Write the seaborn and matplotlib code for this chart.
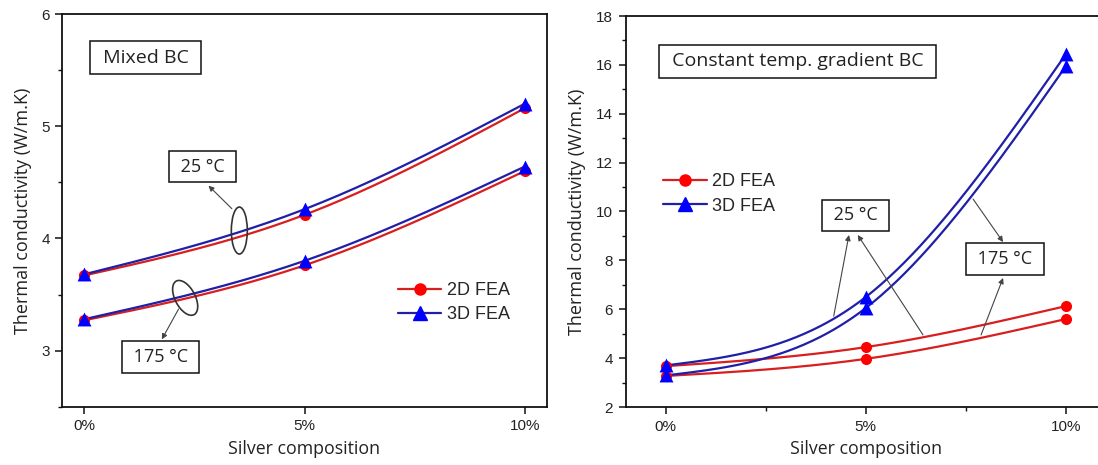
import numpy as np
import matplotlib
matplotlib.use("Agg")
import matplotlib.pyplot as plt
import seaborn as sns
from matplotlib.lines import Line2D
from matplotlib.patches import Ellipse
from matplotlib.transforms import ScaledTranslation
from matplotlib.ticker import MultipleLocator, FixedLocator

# ---- data -------------------------------------------------------------
silver = [0, 5, 10]                       # silver content, %
tick_labels = ["0%", "5%", "10%"]

# Mixed boundary condition
mixed_2d_25 = [3.67, 4.21, 5.16]
mixed_3d_25 = [3.68, 4.26, 5.20]
mixed_2d_175 = [3.27, 3.76, 4.60]
mixed_3d_175 = [3.28, 3.80, 4.64]

# Constant temperature-gradient boundary condition
const_2d_25 = [3.67, 4.45, 6.13]
const_3d_25 = [3.70, 6.50, 16.44]
const_2d_175 = [3.27, 3.97, 5.60]
const_3d_175 = [3.29, 6.05, 15.95]

series_labels = ["2D FEA", "3D FEA"]

# ---- style ------------------------------------------------------------
sns.set_style("ticks")
plt.rcParams["font.family"] = ["Open Sans", "DejaVu Sans"]

RED_LINE, RED_MARK = "#d81e1e", "#ff0000"
BLUE_LINE, BLUE_MARK = "#1f1fa8", "#0000ff"
ARIAL = ["Liberation Sans", "DejaVu Sans"]


def natural_spline(x, y, xs):
    """Natural cubic spline through (x, y), evaluated at xs."""
    x = np.asarray(x, float)
    y = np.asarray(y, float)
    n = len(x)
    h = np.diff(x)
    A = np.zeros((n, n))
    r = np.zeros(n)
    A[0, 0] = A[-1, -1] = 1.0
    for i in range(1, n - 1):
        A[i, i - 1] = h[i - 1]
        A[i, i] = 2 * (h[i - 1] + h[i])
        A[i, i + 1] = h[i]
        r[i] = 6 * ((y[i + 1] - y[i]) / h[i] - (y[i] - y[i - 1]) / h[i - 1])
    M = np.linalg.solve(A, r)
    out = np.empty_like(xs)
    for k, xv in enumerate(xs):
        i = min(np.searchsorted(x, xv, side="right") - 1, n - 2)
        i = max(i, 0)
        t0, t1 = x[i + 1] - xv, xv - x[i]
        out[k] = (M[i] * t0 ** 3 + M[i + 1] * t1 ** 3) / (6 * h[i]) \
            + (y[i] / h[i] - M[i] * h[i] / 6) * t0 \
            + (y[i + 1] / h[i] - M[i + 1] * h[i] / 6) * t1
    return out


def draw_series(ax, y, kind):
    xs = np.linspace(silver[0], silver[-1], 200)
    ys = natural_spline(silver, y, xs)
    color = RED_LINE if kind == "2d" else BLUE_LINE
    sns.lineplot(x=xs, y=ys, ax=ax, color=color, lw=1.6,
                 estimator=None, sort=False, zorder=2 if kind == "2d" else 2.1)


def draw_markers(ax, y, kind):
    if kind == "2d":
        sns.scatterplot(x=silver, y=y, ax=ax, marker="o", s=64, color=RED_MARK,
                        edgecolor=RED_MARK, linewidth=0, zorder=3)
    else:
        sns.scatterplot(x=silver, y=y, ax=ax, marker="^", s=100, color=BLUE_MARK,
                        edgecolor=BLUE_MARK, linewidth=0, zorder=3.1)


def style_axes(ax):
    for sp in ax.spines.values():
        sp.set_visible(True)
        sp.set_linewidth(1.3)
        sp.set_color("#111111")
    ax.tick_params(which="major", direction="out", length=5, width=1.1,
                   pad=4, top=False, right=False, colors="#111111",
                   labelsize=11, labelcolor="#222222", labelfontfamily=ARIAL)
    ax.tick_params(which="minor", direction="out", length=3, width=1.0,
                   top=False, right=False, colors="#111111")
    ax.set_xticks(silver)
    ax.set_xticklabels(tick_labels)
    ax.set_xlabel("Silver composition", fontsize=12.8, color="#222222", labelpad=5)
    ax.set_ylabel("Thermal conductivity (W/m.K)", fontsize=13, color="#222222",
                  labelpad=7)


def add_legend(ax, anchor):
    handles = [
        Line2D([], [], color=RED_LINE, lw=1.6, marker="o", markersize=8,
               markerfacecolor=RED_MARK, markeredgecolor=RED_MARK),
        Line2D([], [], color=BLUE_LINE, lw=1.6, marker="^", markersize=9.5,
               markerfacecolor=BLUE_MARK, markeredgecolor=BLUE_MARK),
    ]
    ax.legend(handles, series_labels, loc="upper left", bbox_to_anchor=anchor,
              frameon=False, borderpad=0, borderaxespad=0, handlelength=2.4,
              handletextpad=0.3, labelspacing=0.42,
              prop=dict(family=ARIAL, size=13))


BOX = dict(boxstyle="square,pad=0.38", fc="white", ec="#111111", lw=1.1)


def box_text(ax, x, y, s, size):
    ax.text(x, y, s, ha="center", va="center", fontsize=size, color="#222222",
            bbox=BOX, zorder=5)


def arrow(ax, start, end):
    ax.annotate("", xy=end, xytext=start,
                arrowprops=dict(arrowstyle="-|>", color="#444444", lw=0.8,
                                mutation_scale=8, shrinkA=0, shrinkB=0),
                zorder=4)


def ring(fig, ax, center, w_px, h_px, angle):
    tr = fig.dpi_scale_trans + ScaledTranslation(center[0], center[1], ax.transData)
    ax.add_patch(Ellipse((0, 0), w_px / 100, h_px / 100, angle=angle,
                         transform=tr, fill=False, ec="#333333", lw=1.2, zorder=4))


# ---- figure -----------------------------------------------------------
W, H = 1098, 465
fig = plt.figure(figsize=(W / 100, H / 100), dpi=100)
ax1 = fig.add_axes([62.3 / W, (H - 406.7) / H, (546.7 - 62.3) / W, (406.7 - 14) / H])
ax2 = fig.add_axes([625.5 / W, (H - 407) / H, (1106 - 625.5) / W, (407 - 16) / H])

# Mixed BC panel
for y in (mixed_2d_25, mixed_2d_175):
    draw_series(ax1, y, "2d")
for y in (mixed_3d_25, mixed_3d_175):
    draw_series(ax1, y, "3d")
for y in (mixed_2d_25, mixed_2d_175):
    draw_markers(ax1, y, "2d")
for y in (mixed_3d_25, mixed_3d_175):
    draw_markers(ax1, y, "3d")

ax1.set_xlim(-0.5, 10.5)
ax1.set_ylim(2.5, 6)
ax1.yaxis.set_major_locator(FixedLocator([3, 4, 5, 6]))
ax1.yaxis.set_minor_locator(MultipleLocator(0.5))
style_axes(ax1)
add_legend(ax1, (0.693, 0.318))

box_text(ax1, 1.39, 5.61, " Mixed BC ", 14)
box_text(ax1, 2.69, 4.64, " 25 °C ", 13)
box_text(ax1, 1.73, 2.94, " 175 °C ", 13)
ring(fig, ax1, (3.52, 4.07), 16, 47, 0)
ring(fig, ax1, (2.29, 3.47), 20, 38, 28)
arrow(ax1, (3.35, 4.265), (2.82, 4.47))
arrow(ax1, (2.14, 3.37), (1.76, 3.10))

# Constant temperature-gradient BC panel
for y in (const_2d_25, const_2d_175):
    draw_series(ax2, y, "2d")
for y in (const_3d_25, const_3d_175):
    draw_series(ax2, y, "3d")
for y in (const_2d_25, const_2d_175):
    draw_markers(ax2, y, "2d")
for y in (const_3d_25, const_3d_175):
    draw_markers(ax2, y, "3d")

ax2.set_xlim(-1, 11)
ax2.set_ylim(2, 18)
ax2.yaxis.set_major_locator(MultipleLocator(2))
ax2.yaxis.set_minor_locator(MultipleLocator(1))
ax2.xaxis.set_minor_locator(FixedLocator([2.5, 7.5]))
style_axes(ax2)
add_legend(ax2, (0.079, 0.598))

box_text(ax2, 3.3, 16.15, " Constant temp. gradient BC ", 14)
box_text(ax2, 4.74, 9.84, " 25 °C ", 13)
box_text(ax2, 8.48, 8.05, " 175 °C ", 13)
arrow(ax2, (4.2, 5.72), (4.58, 9.04))
arrow(ax2, (6.43, 4.95), (4.8, 9.04))
arrow(ax2, (7.68, 10.51), (8.43, 8.75))
arrow(ax2, (7.88, 4.95), (8.43, 7.28))

fig.savefig("out.png", dpi=100, facecolor="white")
